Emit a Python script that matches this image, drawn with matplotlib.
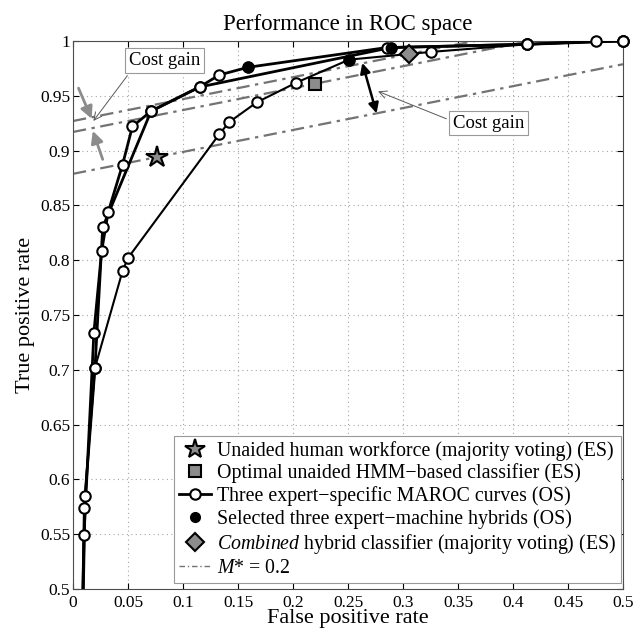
import numpy as np
import matplotlib
matplotlib.use("Agg")
import matplotlib.pyplot as plt
from matplotlib.lines import Line2D

plt.rcParams['font.family'] = ['Liberation Serif', 'DejaVu Serif']
plt.rcParams['mathtext.fontset'] = 'custom'
plt.rcParams['mathtext.rm'] = 'Liberation Serif'
plt.rcParams['mathtext.it'] = 'Liberation Serif:italic'

# ── DATA ─────────────────────────────────────────────────
# three expert-specific MAROC curves
curve_a_fpr = [0, 0.010, 0.019, 0.026, 0.032, 0.045, 0.054, 0.071, 0.115, 0.133, 0.159, 0.285, 0.413, 0.475, 0.5]
curve_a_tpr = [0, 0.549, 0.734, 0.808, 0.844, 0.887, 0.922, 0.936, 0.958, 0.969, 0.976, 0.994, 0.997, 1.0, 1.0]

curve_b_fpr = [0, 0.011, 0.020, 0.027, 0.071, 0.115, 0.289, 0.413, 0.5]
curve_b_tpr = [0, 0.585, 0.702, 0.830, 0.936, 0.958, 0.994, 0.997, 1.0]

curve_c_fpr = [0, 0.010, 0.020, 0.045, 0.050, 0.133, 0.142, 0.167, 0.203, 0.251, 0.325, 0.413, 0.5]
curve_c_tpr = [0, 0.574, 0.702, 0.790, 0.802, 0.915, 0.926, 0.944, 0.962, 0.983, 0.990, 0.997, 1.0]

# selected hybrids (filled dots)
hybrid_fpr = [0.159, 0.251, 0.289]
hybrid_tpr = [0.976, 0.983, 0.994]

# single operating points
human_pt = (0.076, 0.894)      # star
hmm_pt = (0.220, 0.961)        # square
combined_pt = (0.305, 0.988)   # diamond

m_star = 0.2   # slope of iso-performance lines

# ── PLOT ─────────────────────────────────────────────────
fig = plt.figure(figsize=(6.35, 6.34), dpi=100)
ax = fig.add_axes([73/635, 1-589/634, 550/635, 548/634])

ax.set_xlim(0, 0.5)
ax.set_ylim(0.5, 1)
ax.set_xticks(np.arange(0, 0.501, 0.05))
ax.set_yticks(np.arange(0.5, 1.001, 0.05))
ax.set_xticklabels(['0', '0.05', '0.1', '0.15', '0.2', '0.25', '0.3', '0.35', '0.4', '0.45', '0.5'])
ax.set_yticklabels(['0.5', '0.55', '0.6', '0.65', '0.7', '0.75', '0.8', '0.85', '0.9', '0.95', '1'])
ax.grid(True, linestyle=(0, (1, 3)), color='0.65', linewidth=0.8)
ax.tick_params(direction='in', length=4, labelsize=12.5, top=True, right=True, pad=4)
ax.tick_params(axis='y', pad=2)
for s in ax.spines.values():
    s.set_color('0.3')
    s.set_linewidth(0.8)

# iso-performance lines through the three points
iso_style = dict(color='0.45', lw=1.6, linestyle=(0, (6, 2.5, 1.5, 2.5)), zorder=2)
xs = np.array([0, 0.5])
for px, py in [combined_pt, hmm_pt, human_pt]:
    ax.plot(xs, py + m_star * (xs - px), **iso_style)

circ = dict(marker='o', markersize=7.5, markerfacecolor='white', markeredgecolor='black',
            markeredgewidth=1.5, linestyle='none', zorder=4, clip_on=False)
for fx, ty, lw in [(curve_c_fpr, curve_c_tpr, 1.5), (curve_b_fpr, curve_b_tpr, 2), (curve_a_fpr, curve_a_tpr, 2)]:
    ax.plot(fx, ty, color='black', lw=lw, zorder=3)
    fx = np.array(fx)
    ty = np.array(ty)
    keep = ty >= 0.5
    ax.plot(fx[keep], ty[keep], **circ)

ax.plot(hybrid_fpr, hybrid_tpr, 'o', color='black', markersize=7.5, zorder=5)
ax.plot(*human_pt, marker='*', markersize=16, markerfacecolor='0.55', markeredgecolor='black',
        markeredgewidth=1.5, zorder=5)
ax.plot(*hmm_pt, marker='s', markersize=9, markerfacecolor='0.55', markeredgecolor='black',
        markeredgewidth=1.5, zorder=5)
ax.plot(*combined_pt, marker='D', markersize=9.5, markerfacecolor='0.55', markeredgecolor='black',
        markeredgewidth=1.5, zorder=5)

# cost gain annotations
box = dict(boxstyle='square,pad=0.2', facecolor='white', edgecolor='0.6', linewidth=0.8)
ax.annotate('Cost gain', xy=(0.017, 0.925), xytext=(0.083, 0.982), fontsize=13.5,
            ha='center', va='center', bbox=box, zorder=6,
            arrowprops=dict(arrowstyle='->', color='0.35', lw=0.7, relpos=(0.05, 0)))
ax.annotate('', xy=(0.017, 0.929), xytext=(0.005, 0.957),
            arrowprops=dict(arrowstyle='-|>', color='0.55', lw=2, mutation_scale=18,
                            shrinkA=0, shrinkB=0))
ax.annotate('', xy=(0.018, 0.918), xytext=(0.027, 0.892),
            arrowprops=dict(arrowstyle='-|>', color='0.55', lw=2, mutation_scale=18,
                            shrinkA=0, shrinkB=0))

ax.annotate('', xy=(0.263, 0.980), xytext=(0.276, 0.934),
            arrowprops=dict(arrowstyle='<|-|>', color='black', lw=1.8, mutation_scale=15,
                            shrinkA=0, shrinkB=0), zorder=6)
ax.annotate('Cost gain', xy=(0.275, 0.955), xytext=(0.378, 0.925), fontsize=13.5,
            ha='center', va='center', bbox=box, zorder=6,
            arrowprops=dict(arrowstyle='->', color='0.35', lw=0.7, relpos=(0, 0.6)))

ax.set_title('Performance in ROC space', fontsize=16.5, pad=8)
ax.set_xlabel('False positive rate', fontsize=16, labelpad=-1)
ax.set_ylabel('True positive rate', fontsize=16, labelpad=4)

# legend
mk = dict(markeredgecolor='black', markeredgewidth=1.5, markerfacecolor='0.55', linestyle='none')
handles = [
    Line2D([], [], marker='*', markersize=15, **mk),
    Line2D([], [], marker='s', markersize=9, **mk),
    Line2D([], [], color='black', lw=2, marker='o', markersize=7.5, markerfacecolor='white',
           markeredgecolor='black', markeredgewidth=1.5),
    Line2D([], [], marker='o', color='black', markersize=7, linestyle='none'),
    Line2D([], [], marker='D', markersize=9.5, **mk),
    Line2D([], [], color='0.45', lw=1, linestyle=(0, (4, 2, 1, 2))),
]
labels = [
    'Unaided human workforce (majority voting) (ES)',
    'Optimal unaided HMM\u2212based classifier (ES)',
    'Three expert\u2212specific MAROC curves (OS)',
    'Selected three expert\u2212machine hybrids (OS)',
    r'$\mathit{Combined}$ hybrid classifier (majority voting) (ES)',
    r'$\mathit{M}$* = 0.2',
]
leg = ax.legend(handles, labels, loc='lower right', bbox_to_anchor=(0.996, 0.011),
                fontsize=14.3, fancybox=False, framealpha=1, edgecolor='0.6',
                borderaxespad=0, labelspacing=0.15, handlelength=1.6, handletextpad=0.3,
                borderpad=0.25)
leg.get_frame().set_linewidth(0.8)

fig.savefig('out.png', dpi=100)
